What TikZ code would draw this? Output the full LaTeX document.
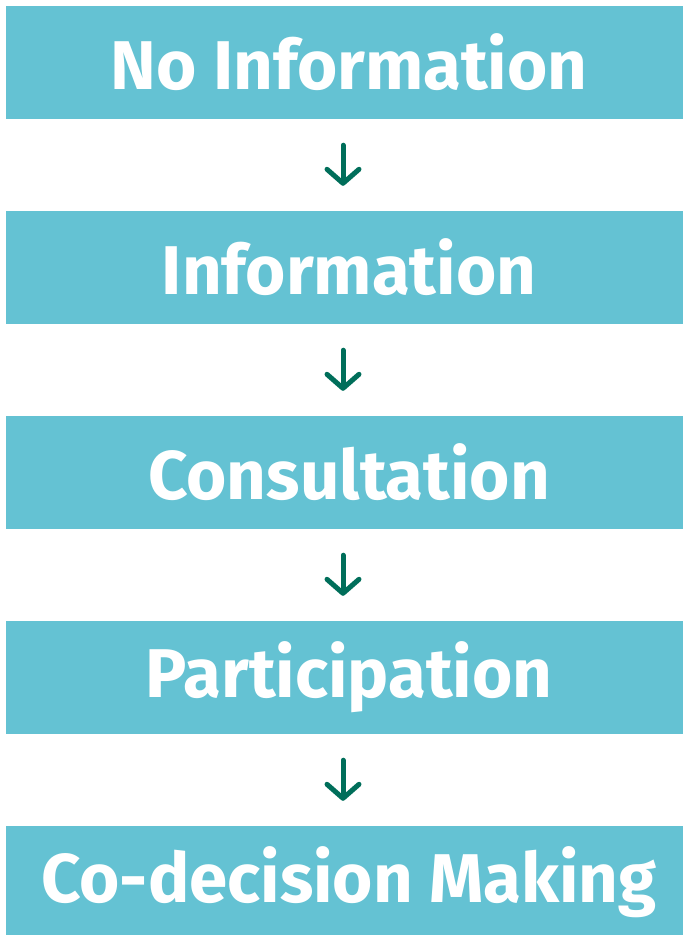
\documentclass[tikz,border=0pt]{standalone}
\usepackage{fontspec}
\setmainfont{Fira Sans}
\usetikzlibrary{arrows.meta}
\definecolor{stagecyan}{HTML}{64C2D3}
\definecolor{arrowgreen}{HTML}{006E5A}

\tikzset{
  stagebox/.style={fill=stagecyan,draw=none,minimum width=686pt,minimum height=113pt,
    inner sep=0pt,text=white,font=\fontsize{69}{75}\selectfont\bfseries},
  stagearrow/.style={arrowgreen,line width=5pt,line cap=round,
    -{Straight Barb[length=14pt,width=32pt,round]},shorten <=26pt,shorten >=25pt}
}

\begin{document}
\begin{tikzpicture}[x=1pt,y=-1pt]
  \useasboundingbox (0,0) rectangle (683,935);

  % the five levels
  \node[stagebox] (none) at (349,62.5) {No Information};
  \node[stagebox] (info) at (349,267.5) {Information};
  \node[stagebox] (cons) at (349,472.5) {Consultation};
  \node[stagebox] (part) at (349,677.5) {Participation};
  \node[stagebox] (codm) at (349,882.5) {Co-decision Making};

  % arrows between levels
  \draw[stagearrow] ([xshift=-6pt]none.south) -- ([xshift=-6pt]info.north);
  \draw[stagearrow] ([xshift=-6pt]info.south) -- ([xshift=-6pt]cons.north);
  \draw[stagearrow] ([xshift=-6pt]cons.south) -- ([xshift=-6pt]part.north);
  \draw[stagearrow] ([xshift=-6pt]part.south) -- ([xshift=-6pt]codm.north);
\end{tikzpicture}
\end{document}
